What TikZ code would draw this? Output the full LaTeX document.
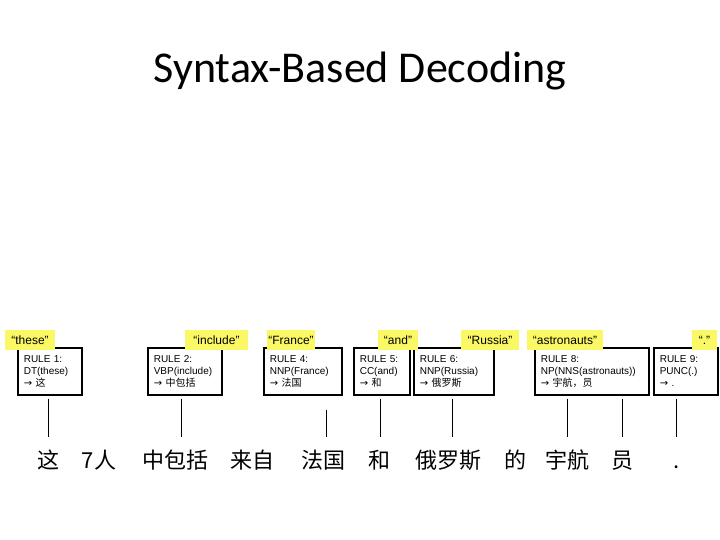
\documentclass[tikz,border=0pt]{standalone}
\usepackage{fontspec}
\setmainfont{Liberation Sans}
\newfontfamily\titlefont{Carlito}
\newfontfamily\cjk{Noto Sans CJK SC}
\newfontfamily\arrowfont{DejaVu Sans}
\definecolor{labelyellow}{RGB}{250,248,100}
\newcommand{\ar}{{\arrowfont\fontsize{10}{12}\selectfont →}}
\begin{document}
\begin{tikzpicture}[x=1pt,y=-1pt,
  rulebox/.style={draw, line width=1.6pt, anchor=north west, minimum height=47pt,
    align=left, inner xsep=6pt, inner ysep=0pt, font=\fontsize{10}{12}\selectfont},
  wordlabel/.style={fill=labelyellow, minimum height=20pt, inner sep=0pt,
    font=\fontsize{12}{14}\selectfont},
  cnword/.style={font=\cjk\fontsize{22}{24}\selectfont, inner sep=0pt, anchor=base},
  conn/.style={line width=0.8pt}]
\useasboundingbox (0,0) rectangle (720,540);
\fill[white] (0,0) rectangle (720,540);
% title
\node[font=\titlefont\fontsize{44}{50}\selectfont, anchor=base] (title) at (360,83) {Syntax-Based Decoding};
% rule boxes
\node[rulebox, text width=52pt] (b1) at (17,347) {RULE 1:\\DT(these)\\\ar\ {\cjk 这}};
\node[rulebox, text width=62pt] (b2) at (147,347) {RULE 2:\\VBP(include)\\\ar\ {\cjk 中包括}};
\node[rulebox, text width=66pt] (b4) at (263,347) {RULE 4:\\NNP(France)\\\ar\ {\cjk 法国}};
\node[rulebox, text width=44pt] (b5) at (353,347) {RULE 5:\\CC(and)\\\ar\ {\cjk 和}};
\node[rulebox, text width=68pt] (b6) at (413,347) {RULE 6:\\NNP(Russia)\\\ar\ {\cjk 俄罗斯}};
\node[rulebox, text width=102pt] (b8) at (534,347) {RULE 8:\\NP(NNS(astronauts))\\\ar\ {\cjk 宇航，员}};
\node[rulebox, text width=52pt] (b9) at (653,347) {RULE 9:\\PUNC(.)\\\ar\ .};
% yellow word labels
\node[wordlabel, minimum width=50pt] (l1) at (30,340) {“these”};
\node[wordlabel, minimum width=63pt] (l2) at (216.5,340) {“include”};
\node[wordlabel, minimum width=48pt] (l4) at (291,340) {“France”};
\node[wordlabel, minimum width=40pt] (l5) at (398,340) {“and”};
\node[wordlabel, minimum width=58pt] (l6) at (490,340) {“Russia”};
\node[wordlabel, minimum width=76pt] (l8) at (565,340) {“astronauts”};
\node[wordlabel, minimum width=25pt] (l9) at (704.5,340) {“.”};
% Chinese sentence
\node[cnword] (w1) at (48,468) {这};
\node[cnword] (w2) at (99,468) {7人};
\node[cnword] (w3) at (175,468) {中包括};
\node[cnword] (w4) at (252,468) {来自};
\node[cnword] (w5) at (323,468) {法国};
\node[cnword] (w6) at (379,468) {和};
\node[cnword] (w7) at (448,468) {俄罗斯};
\node[cnword] (w8) at (515,468) {的};
\node[cnword] (w9) at (567,468) {宇航};
\node[cnword] (w10) at (622,468) {员};
\node[cnword] (w11) at (677,468) {.};
% connectors
\coordinate (lb) at (0,437);
\draw[conn] ([yshift=-3pt]b1.south -| w1) -- (w1 |- lb);
\draw[conn] ([yshift=-3pt,xshift=6pt]b2.south -| w3) -- ([xshift=6pt]w3 |- lb);
\draw[conn] ([yshift=-14pt,xshift=3pt]b4.south -| w5) -- ([xshift=3pt]w5 |- lb);
\draw[conn] ([yshift=-3pt,xshift=1pt]b5.south -| w6) -- ([xshift=1pt]w6 |- lb);
\draw[conn] ([yshift=-3pt,xshift=4pt]b6.south -| w7) -- ([xshift=4pt]w7 |- lb);
\draw[conn] ([yshift=-3pt]b8.south -| w9) -- (w9 |- lb);
\draw[conn] ([yshift=-3pt]b8.south -| w10) -- (w10 |- lb);
\draw[conn] ([yshift=-3pt,xshift=-1pt]b9.south -| w11) -- ([xshift=-1pt]w11 |- lb);
\end{tikzpicture}
\end{document}
